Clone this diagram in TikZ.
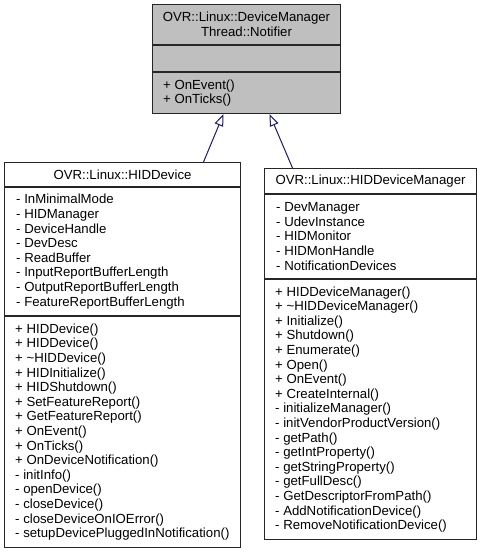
\documentclass[tikz,border=0pt]{standalone}
\usepackage{fontspec}
\setmainfont{Liberation Sans}
\usetikzlibrary{arrows.meta}
\definecolor{boxgray}{HTML}{BFBFBF}
\definecolor{edgeblue}{HTML}{191970}
\begin{document}
\begin{tikzpicture}[x=1bp,y=-1bp,
  txtfont/.style={font=\fontsize{13.2bp}{14.6bp}\selectfont},
  comp/.style={draw=black!85, line width=1bp, anchor=north west, inner sep=0pt, txtfont, align=center},
  members/.style={anchor=west, inner sep=0pt, txtfont, align=left},
  inherit/.style={draw=edgeblue, line width=1bp, -{Triangle[open, length=12bp, width=9bp]}}]
\useasboundingbox (0,0) rectangle (483,552);
% Notifier (base class)
\node[comp, fill=boxgray, minimum width=188bp, minimum height=40bp] (Nt) at (152,4)
  {OVR::Linux::DeviceManager\\Thread::Notifier};
\node[comp, fill=boxgray, minimum width=188bp, minimum height=26bp] (Na) at (Nt.south west) {};
\node[comp, fill=boxgray, minimum width=188bp, minimum height=41bp] (Nm) at (Na.south west) {};
\node[members] (Nmt) at ([xshift=11bp]Nm.west) {+ OnEvent()\\+ OnTicks()};
% HIDDevice
\node[comp, minimum width=236bp, minimum height=24bp] (At) at (4,162) {OVR::Linux::HIDDevice};
\node[comp, minimum width=236bp, minimum height=128bp] (Aa) at (At.south west) {};
\node[members] (Aat) at ([xshift=12bp]Aa.west)
  {- InMinimalMode\\- HIDManager\\- DeviceHandle\\- DevDesc\\- ReadBuffer\\- InputReportBufferLength\\- OutputReportBufferLength\\- FeatureReportBufferLength};
\node[comp, minimum width=236bp, minimum height=231bp] (Am) at (Aa.south west) {};
\node[members] (Amt) at ([xshift=11bp]Am.west)
  {+ HIDDevice()\\+ HIDDevice()\\+ \textasciitilde HIDDevice()\\+ HIDInitialize()\\+ HIDShutdown()\\+ SetFeatureReport()\\+ GetFeatureReport()\\+ OnEvent()\\+ OnTicks()\\+ OnDeviceNotification()\\- initInfo()\\- openDevice()\\- closeDevice()\\- closeDeviceOnIOError()\\- setupDevicePluggedInNotification()};
% HIDDeviceManager
\node[comp, minimum width=212bp, minimum height=25bp] (Bt) at (264,168) {OVR::Linux::HIDDeviceManager};
\node[comp, minimum width=212bp, minimum height=84bp] (Ba) at (Bt.south west) {};
\node[members] (Bat) at ([xshift=12bp]Ba.west)
  {- DevManager\\- UdevInstance\\- HIDMonitor\\- HIDMonHandle\\- NotificationDevices};
\node[comp, minimum width=212bp, minimum height=260bp] (Bm) at (Ba.south west) {};
\node[members] (Bmt) at ([xshift=11bp]Bm.west)
  {+ HIDDeviceManager()\\+ \textasciitilde HIDDeviceManager()\\+ Initialize()\\+ Shutdown()\\+ Enumerate()\\+ Open()\\+ OnEvent()\\+ CreateInternal()\\- initializeManager()\\- initVendorProductVersion()\\- getPath()\\- getIntProperty()\\- getStringProperty()\\- getFullDesc()\\- GetDescriptorFromPath()\\- AddNotificationDevice()\\- RemoveNotificationDevice()};
% inheritance
\draw[inherit] ([xshift=81bp]At.north) -- ([xshift=-23bp]Nm.south);
\draw[inherit] ([xshift=-78bp]Bt.north) -- ([xshift=23bp]Nm.south);
\end{tikzpicture}
\end{document}
